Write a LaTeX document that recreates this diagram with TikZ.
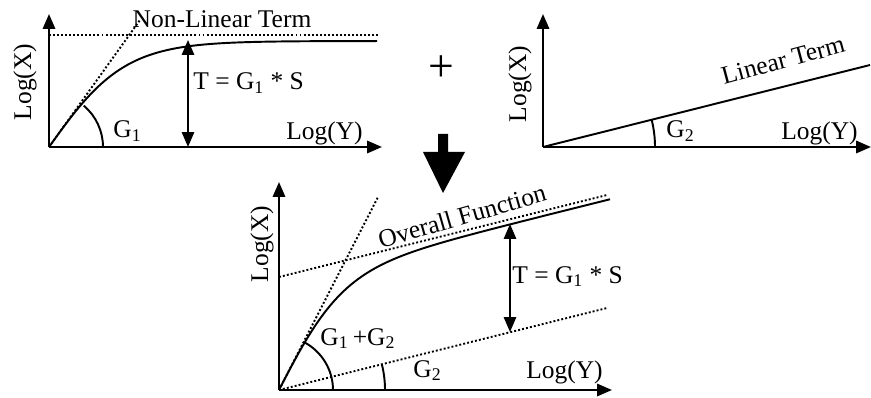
\documentclass[tikz,border=0pt]{standalone}
\usepackage{fontspec}
\setmainfont{Liberation Serif}
\usetikzlibrary{arrows.meta}
\tikzset{
  axis/.style={line width=1.3pt,-{Triangle[length=8.5pt,width=7pt]}},
  curve/.style={line width=1.1pt},
  guide/.style={line width=1.1pt,dash pattern=on 1.1pt off 1.2pt},
  dim/.style={line width=1.1pt,{Triangle[length=8.5pt,width=7pt]}-{Triangle[length=8.5pt,width=7pt]}},
  lbl/.style={font=\fontsize{14.5}{16}\selectfont,inner sep=0pt},
}
\begin{document}
\begin{tikzpicture}[x=0.02cm,y=0.02cm]
\useasboundingbox (0,0) rectangle (871,-398);
% non-linear term
\coordinate (o1) at (49,-147);
\draw[axis] (o1) -- (49,-14);
\draw[axis] (o1) -- (382,-147);
\draw[guide] (49,-35) -- (378,-35);
\draw[guide] (o1) -- (140,-20);
\draw[curve] plot[domain=0:328,samples=80] ({49+\x},{-147+106*tanh(\x/76)});
\draw[curve] (o1) ++(54,0) arc (0:50:54);
\draw[dim] (188,-147) -- (188,-40);
\node[lbl] (nlterm) at (222,-19) {Non-Linear Term};
\node[lbl,rotate=90] (logx1) at (25,-82) {Log(X)};
\node[lbl,anchor=base west] (t1) at (193,-90) {T = G\textsubscript{1} * S};
\node[lbl,anchor=base west] (g1) at (113,-138) {G\textsubscript{1}};
\node[lbl,anchor=base east] (logy1) at (363,-140) {Log(Y)};
% plus
\node[lbl,font=\fontsize{26}{28}\selectfont] (plus) at (441,-69) {+};
% linear term
\coordinate (o2) at (543,-147);
\draw[axis] (o2) -- (543,-14);
\draw[axis] (o2) -- (871,-147);
\draw[curve] (o2) -- (870,-65);
\draw[curve] (o2) ++(112,0) arc (0:14:112);
\node[lbl,rotate=90] (logx2) at (520,-84) {Log(X)};
\node[lbl,rotate=15] (linterm) at (783,-60) {Linear Term};
\node[lbl,anchor=base west] (g2) at (666,-138) {G\textsubscript{2}};
\node[lbl,anchor=base east] (logy2) at (858,-140) {Log(Y)};
% big arrow
\fill (438,-134) -- (448,-134) -- (448,-152) -- (465,-152) -- (443,-193)
  -- (423,-152) -- (438,-152) -- cycle;
% overall function
\coordinate (o3) at (279,-390);
\draw[axis] (o3) -- (279,-182);
\draw[axis] (o3) -- (612,-390);
\draw[guide] (o3) -- (378,-197);
\draw[guide] (279,-277) -- (607,-195);
\draw[guide] (o3) -- (607,-308);
\draw[curve] plot[domain=0:331,samples=80] ({279+\x},{-390+0.25*\x+108*tanh(\x/64)});
\draw[curve] (o3) ++(54,0) arc (0:62:54);
\draw[curve] (o3) ++(106,0) arc (0:14:106);
\draw[dim] (510,-332) -- (510,-224);
\node[lbl,rotate=90] (logx3) at (262,-244) {Log(X)};
\node[lbl,rotate=16] (overall) at (462,-216) {Overall Function};
\node[lbl,anchor=base west] (t3) at (512,-283) {T = G\textsubscript{1} * S};
\node[lbl,anchor=base west] (g12) at (320,-345) {G\textsubscript{1}\,+G\textsubscript{2}};
\node[lbl,anchor=base west] (g2b) at (413,-377) {G\textsubscript{2}};
\node[lbl,anchor=base east] (logy3) at (603,-378) {Log(Y)};
\end{tikzpicture}
\end{document}
